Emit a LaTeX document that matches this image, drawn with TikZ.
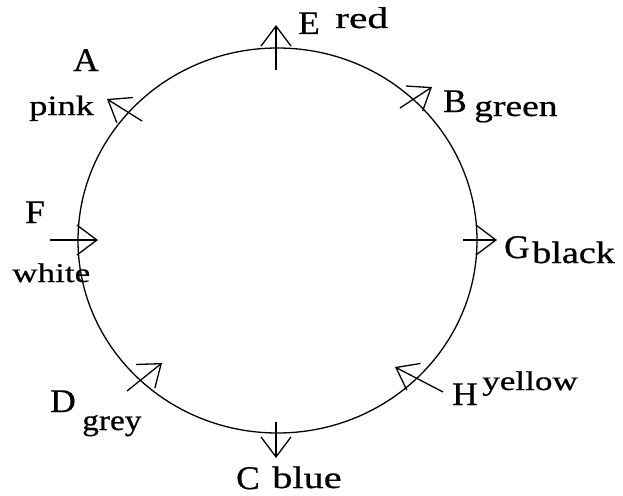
\documentclass[tikz,border=0pt]{standalone}
\usepackage{fontspec}
\setmainfont{Liberation Serif}
\newfontfamily\lblfont{Liberation Serif}[FakeBold=0.6]
\usetikzlibrary{arrows.meta}
\tikzset{
  uc/.style={font=\lblfont\fontsize{33}{33}\selectfont, xscale=1.07, anchor=base west, inner sep=0pt},
  lc/.style 2 args={font=\lblfont\fontsize{#1}{#1}\selectfont, xscale=#2, anchor=base west, inner sep=0pt},
  ring/.style={line width=1.3pt},
  flow/.style={line width=1.3pt, -{Straight Barb[length=20pt,width=30pt,line width=1.3pt]}}
}
\begin{document}
\begin{tikzpicture}[x=1pt,y=-1pt]
\useasboundingbox (0,0) rectangle (623,495);
% ring
\draw[ring] (277.5,240.5) ellipse [x radius=199.5pt, y radius=192.5pt];
% arrow marks
\coordinate (Es) at (276,70);  \coordinate (Et) at (276,25);
\coordinate (As) at (142,121); \coordinate (At) at (107,99);
\coordinate (Bs) at (400,108); \coordinate (Bt) at (432,87);
\coordinate (Fs) at (50,240);  \coordinate (Ft) at (98,240);
\coordinate (Gs) at (463,240); \coordinate (Gt) at (497,240);
\coordinate (Ds) at (127,391); \coordinate (Dt) at (162,363);
\coordinate (Hs) at (443,392); \coordinate (Ht) at (395,367);
\coordinate (Cs) at (276,422); \coordinate (Ct) at (276,458);
\draw[flow] (Es) -- (Et);
\draw[flow] (As) -- (At);
\draw[flow] (Bs) -- (Bt);
\draw[flow] (Fs) -- (Ft);
\draw[flow] (Gs) -- (Gt);
\draw[flow] (Ds) -- (Dt);
\draw[flow] (Hs) -- (Ht);
\draw[flow] (Cs) -- (Ct);
% labels
\node[uc] (lE) at (298,34) {E};
\node[lc={30}{1.38}] (lred) at (335,28) {red};
\node[uc] (lA) at (73,71) {A};
\node[lc={28}{1.3}] (lpink) at (29,115) {pink};
\node[uc] (lB) at (443,112) {B};
\node[lc={30}{1.25}] (lgreen) at (474,116) {green};
\node[uc] (lF) at (25,223) {F};
\node[lc={27}{1.3}] (lwhite) at (12,282) {white};
\node[uc] (lG) at (504,258) {G};
\node[lc={31}{1.23}] (lblack) at (532,263) {black};
\node[uc] (lH) at (452,405) {H};
\node[lc={27}{1.3}] (lyellow) at (482,390) {yellow};
\node[uc] (lD) at (50,412) {D};
\node[lc={29}{1.15}] (lgrey) at (82,430) {grey};
\node[uc] (lC) at (236,489) {C};
\node[lc={31}{1.3}] (lblue) at (272,488) {blue};
\end{tikzpicture}
\end{document}
